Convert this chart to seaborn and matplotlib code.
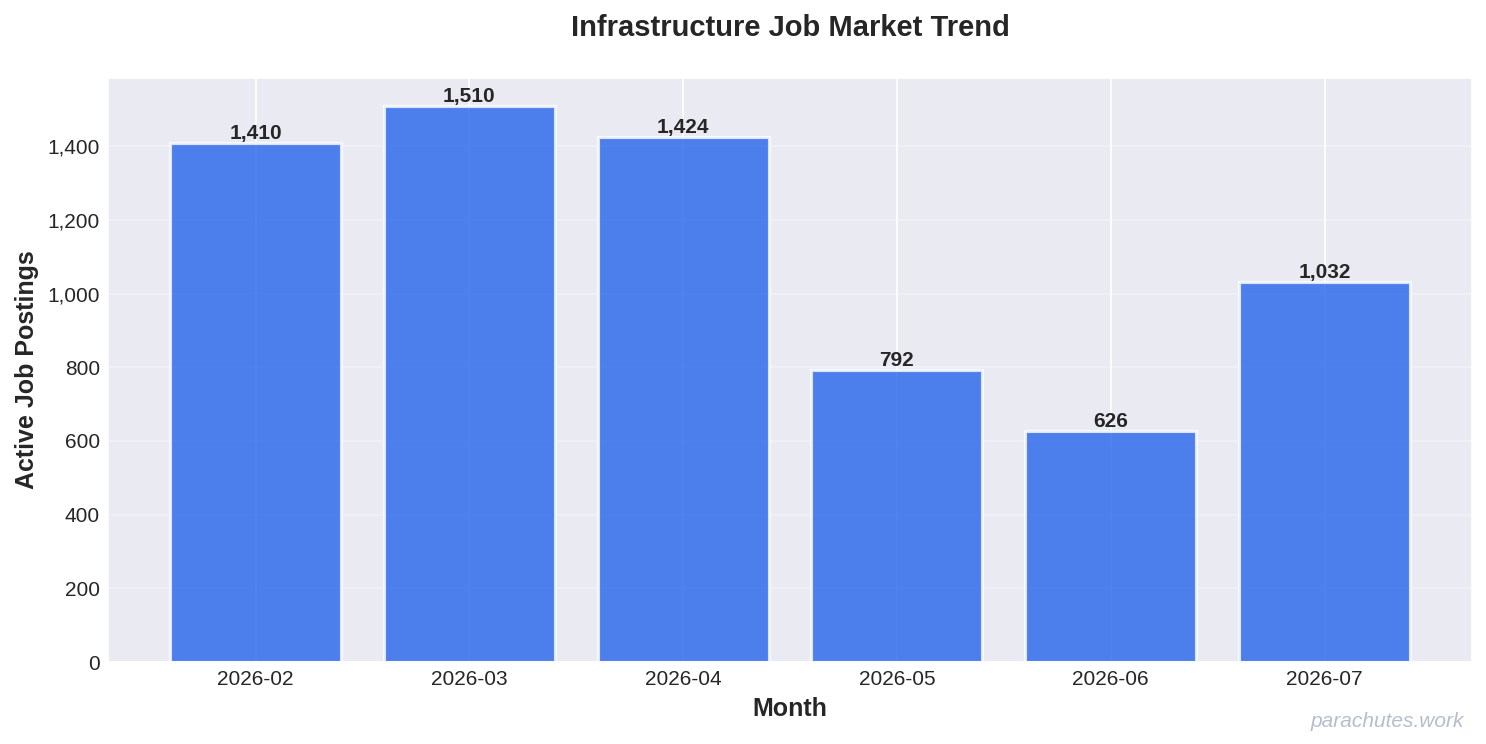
import matplotlib
matplotlib.use("Agg")
import matplotlib.pyplot as plt
import matplotlib.ticker as mticker
import seaborn as sns
import pandas as pd

# monthly counts
months = ["2026-02", "2026-03", "2026-04", "2026-05", "2026-06", "2026-07"]
postings = [1410, 1510, 1424, 792, 626, 1032]

sns.set_style("darkgrid")
plt.rcParams['font.family'] = ['Liberation Sans', 'DejaVu Sans']

df = pd.DataFrame({"Month": months, "Active Job Postings": postings})

fig = plt.figure(figsize=(1486 / 150, 744 / 150), dpi=150)
ax = fig.add_axes([0.0727, 0.1102, 0.9179, 0.785])

sns.barplot(data=df, x="Month", y="Active Job Postings", color="#2563eb",
            saturation=1, alpha=0.8, edgecolor="white", linewidth=1.5,
            width=0.8, ax=ax)

ax.bar_label(ax.containers[0], labels=[f"{v:,}" for v in postings],
             fontsize=10, fontweight="bold", color="#262626", padding=0)

# seaborn drops the categorical grid and margins, put them back
ax.set_xlim(-0.69, len(months) - 1 + 0.69)
ax.set_ylim(0, max(postings) * 1.05)
ax.yaxis.set_major_formatter(mticker.FuncFormatter(lambda v, p: f"{int(v):,}"))
ax.grid(axis="x", visible=True, color="white", alpha=1.0)
ax.grid(axis="y", alpha=0.3)
ax.set_axisbelow(True)
ax.tick_params(labelsize=10, length=0, pad=3.8)

ax.set_title("Infrastructure Job Market Trend", fontsize=14, fontweight="bold", pad=20)
ax.set_xlabel("Month", fontsize=12, fontweight="bold")
ax.set_ylabel("Active Job Postings", fontsize=12, fontweight="bold")

fig.text(0.985, 0.018, "parachutes.work", ha="right", va="bottom",
         fontsize=10, style="italic", color="#94a3b8", alpha=0.7)

fig.savefig("out.png", dpi=150)
